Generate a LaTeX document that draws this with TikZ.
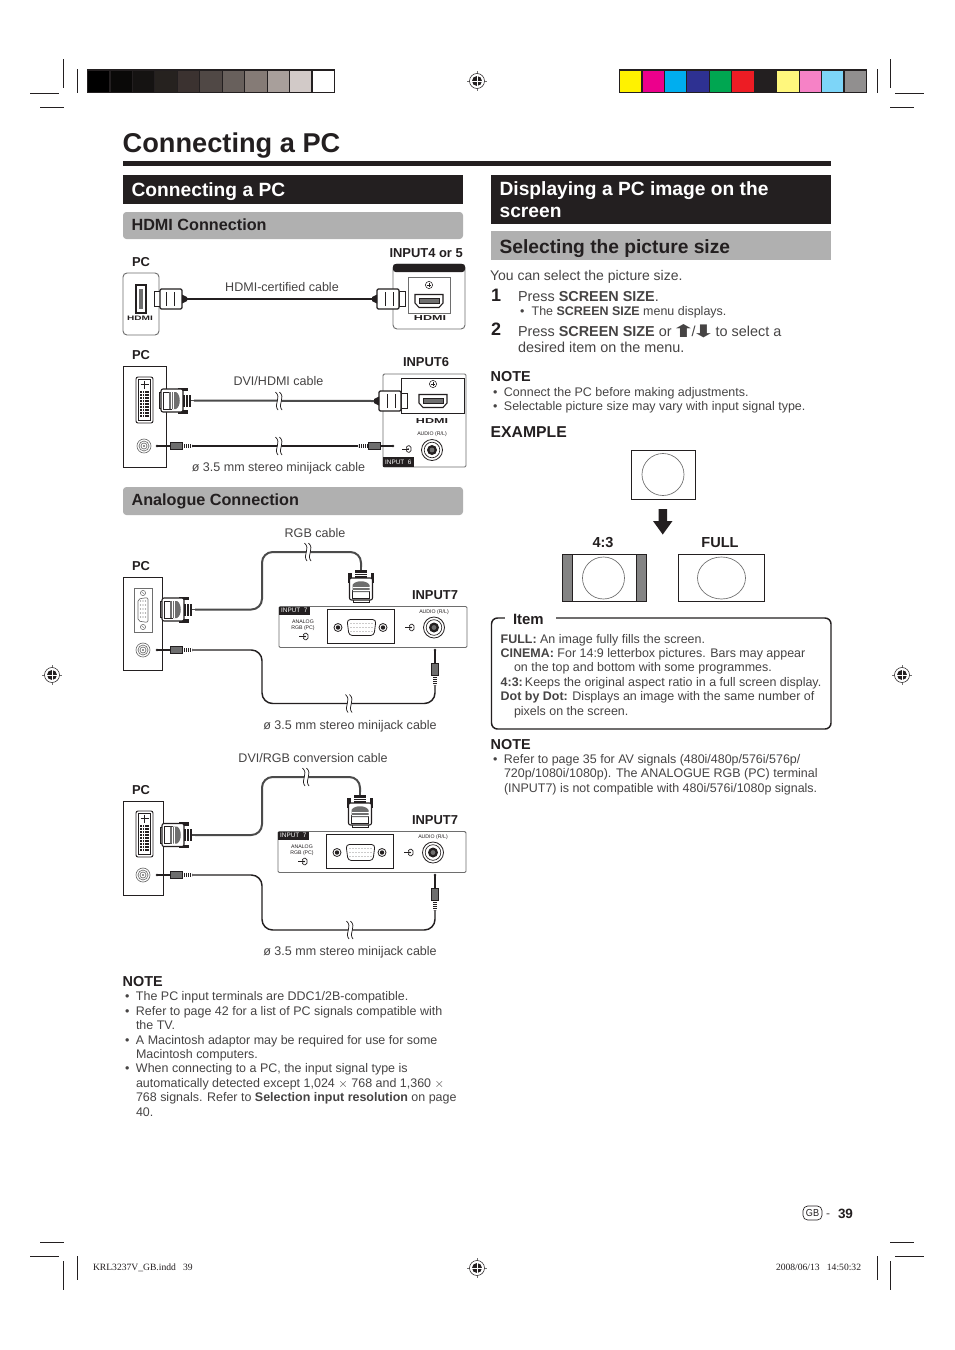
\documentclass[tikz,border=0pt]{standalone}
\usepackage{fontspec}
\usepackage{graphicx}
\usepackage{xcolor}
\usepackage{tikz}
\usetikzlibrary{arrows.meta,positioning}
\setmainfont{Liberation Sans}
\newfontfamily\symfont{DejaVu Sans}
\newfontfamily\slugfont{Liberation Serif}
\definecolor{ink}{RGB}{35,31,32}
\definecolor{soft}{RGB}{70,68,68}
\definecolor{barfill}{RGB}{176,176,176}
\definecolor{framegrey}{RGB}{110,110,110}
\definecolor{cableg}{RGB}{75,75,75}
\definecolor{kone}{RGB}{10,9,8}
\definecolor{ktwo}{RGB}{21,19,18}
\definecolor{kthree}{RGB}{38,34,31}
\definecolor{kfour}{RGB}{59,50,48}
\definecolor{kfive}{RGB}{80,72,69}
\definecolor{ksix}{RGB}{104,96,92}
\definecolor{kseven}{RGB}{133,123,118}
\definecolor{keight}{RGB}{168,159,155}
\definecolor{knine}{RGB}{210,202,200}
\definecolor{cyellow}{RGB}{255,242,0}
\definecolor{cmagenta}{RGB}{236,0,140}
\definecolor{ccyan}{RGB}{0,174,239}
\definecolor{cblue}{RGB}{46,49,146}
\definecolor{cgreen}{RGB}{0,166,81}
\definecolor{cred}{RGB}{237,28,36}
\definecolor{cblack}{RGB}{35,31,32}
\definecolor{lyellow}{RGB}{255,247,125}
\definecolor{lmagenta}{RGB}{246,130,198}
\definecolor{lcyan}{RGB}{125,213,248}
\definecolor{lgrey}{RGB}{145,143,143}
\newcommand{\bul}{\makebox[9.75pt][l]{\hspace{1.6pt}\textbullet}}
\newcommand{\hang}{\hspace*{9.75pt}}
\newcommand{\hdmilogo}{\scalebox{1.75}[1]{\fontsize{5.4}{5.4}\selectfont\bfseries HDMI}}
\newcommand{\bigarrow}[1]{\hspace{-3.5pt}\raisebox{-0.8pt}{\scalebox{2.1}[1.2]{\symfont #1}}\hspace{-3.5pt}}
\tikzset{
	bodytext/.style={anchor=base west, align=left, text=soft, font=\fontsize{9.35}{10.8}\selectfont},
	steptext/.style={anchor=base west, align=left, text=soft, font=\fontsize{10.8}{12}\selectfont},
	cablelabel/.style={anchor=base, text=soft, font=\fontsize{9.4}{11}\selectfont},
	boldlabel/.style={anchor=base west, text=ink, font=\fontsize{9.7}{11}\selectfont\bfseries},
	notehead/.style={anchor=base west, text=ink, font=\fontsize{10.8}{12}\selectfont\bfseries},
	bighead/.style={anchor=base west, align=left, text=white, font=\fontsize{14.4}{15.8}\selectfont\bfseries},
	greyhead/.style={anchor=base west, text=ink, font=\fontsize{14.4}{16}\selectfont\bfseries},
	subhead/.style={anchor=base west, text=ink, font=\fontsize{12.15}{14}\selectfont\bfseries},
	slug/.style={anchor=base west, text=ink, font=\slugfont\fontsize{7.2}{8}\selectfont},
	cropline/.style={line width=0.75pt, ink},
	cellline/.style={draw=cblack, line width=0.9pt},
	panelblack/.style={draw=ink, line width=0.6pt, fill=white},
	panelgrey/.style={draw=framegrey, line width=0.7pt, fill=white},
	thincable/.style={line width=1.1pt, ink},
	widecable/.style={line width=1.5pt, cableg},
	screenbox/.style={draw=ink, line width=0.6pt, fill=white},
	screenface/.style={draw=framegrey, line width=0.5pt},
	inputtag/.style={fill=ink, text=white, anchor=west, inner xsep=1.6pt, inner ysep=1.2pt, font=\fontsize{4.8}{5}\selectfont},
	tinytext/.style={text=ink, align=center, font=\fontsize{3.9}{4.3}\selectfont},
	regmark/.pic={
		\draw[line width=0.25pt, framegrey] (-10,0) -- (10,0) (0,-10) -- (0,10);
		\draw[line width=0.4pt, ink, fill=white] (0,0) circle[radius=7.5];
		\fill[ink] (0,0) circle[radius=5];
		\draw[line width=0.5pt, white] (-5,0) -- (5,0) (0,-5) -- (0,5);
	},
	plusmark/.pic={
		\draw[line width=0.4pt, ink] (0,0) circle[radius=3.6];
		\draw[line width=0.4pt, ink] (-2.2,0) -- (2.2,0) (0,-2.2) -- (0,2.2);
	},
	inmark/.pic={
		\draw[line width=0.5pt, ink] (1.5,-3.2) -- (0,-3.2) -- (-1.6,-1.8) -- (-1.6,1.8) -- (0,3.2) -- (1.5,3.2) -- (3,1.6) -- (3,-1.6) -- cycle;
		\draw[line width=0.5pt, ink] (-6,0) -- (1.2,0);
		\fill[ink] (1.2,0) -- (-0.5,-1.1) -- (-0.5,1.1) -- cycle;
	},
	hdmiplug/.pic={
		\draw[line width=0.7pt, ink, fill=white] (0,-7.5) rectangle (6,7.5);
		\draw[line width=0.9pt, ink, fill=white, rounded corners=1pt] (6,-10) rectangle (28,10);
		\draw[line width=0.6pt, ink] (12,-7) -- (12,7) (20,-7) -- (20,7);
		\fill[ink] (28,-4.5) -- (33,-2) -- (33,2) -- (28,4.5) -- cycle;
		\coordinate (-end) at (33,0);
	},
	dsubplug/.pic={
		\draw[line width=0.5pt, ink, fill=white] (0,-8) rectangle (3,8);
		\fill[ink] (19,-13) rectangle (29,-9.5);
		\fill[ink] (19,9.5) rectangle (29,13);
		\draw[line width=0.8pt, ink, fill=white, rounded corners=1.5pt] (2,-11.5) rectangle (24,11.5);
		\draw[line width=0.4pt, ink, fill=white] (4,-8.5) rectangle (12,8.5);
		\fill[framegrey] (10,-8.5) -- (17,-8.5) .. controls (22,-6) and (22,6) .. (17,8.5) -- (10,8.5) -- cycle;
		\draw[line width=0.4pt, white] (12,-8.5) -- (12,8.5) (14.5,-8.5) -- (14.5,8.5);
		\fill[ink] (24,-6) rectangle (32,6);
		\draw[line width=0.5pt, white] (26.5,-6) -- (26.5,6) (29,-6) -- (29,6);
		\coordinate (-end) at (35,0);
		\draw[line width=1.2pt, cableg] (32,0) -- (35,0);
	},
	jackplug/.pic={
		\fill[ink] (0,0) circle[radius=1.4];
		\draw[line width=1.1pt, ink] (0,0) -- (13,0);
		\draw[line width=0.5pt, ink, fill=framegrey] (13,-3.4) rectangle (25,3.4);
		\draw[line width=3pt, ink, dash pattern=on 0.8pt off 0.7pt] (25,0) -- (35,0);
		\coordinate (-end) at (35,0);
	},
	dviport/.pic={
		\draw[line width=0.7pt, ink, fill=white, rounded corners=1.5pt] (0,0) rectangle (17,46);
		\draw[line width=0.4pt, ink] (2.5,2.5) rectangle (14.5,43.5);
		\draw[line width=1pt, ink] (4.5,7.5) -- (12.5,7.5) (8.5,3.5) -- (8.5,11.5);
		\foreach \col in {5,7.4,9.8,12.2}
			\foreach \row in {15,18,...,39}
				\fill[ink] (\col-0.9,\row-0.9) rectangle (\col+0.9,\row+0.9);
	},
	vgaport/.pic={
		\draw[line width=0.5pt, framegrey, fill=white] (0,0) rectangle (18,44);
		\foreach \row in {5,39} {
			\draw[line width=0.4pt, framegrey] (9,\row) circle[radius=2.6];
			\draw[line width=0.3pt, framegrey] (7.4,\row-1.4) -- (10.6,\row+1.4);
		}
		\draw[line width=0.5pt, framegrey, rounded corners=1.5pt] (4,11) -- (14,9.5) -- (14,34.5) -- (4,33) -- cycle;
		\foreach \col in {6.5,9,11.5}
			\foreach \row in {13,17,...,31}
				\fill[framegrey] (\col,\row) circle[radius=0.55];
	},
	audioport/.pic={
		\draw[line width=0.5pt, framegrey, fill=white] (0,0) circle[radius=7];
		\draw[line width=0.5pt, framegrey] (0,0) circle[radius=5];
		\draw[line width=0.5pt, framegrey] (0,0) circle[radius=3];
		\fill[framegrey] (0,0) circle[radius=1.2];
	},
	audiojack/.pic={
		\draw[line width=0.6pt, ink, fill=white] (0,0) circle[radius=10.5];
		\draw[line width=0.5pt, ink] (0,0) circle[radius=7.8];
		\fill[ink] (0,0) circle[radius=5];
		\fill[framegrey] (0,0) circle[radius=2.4];
	},
	hdmisocket/.pic={
		\draw[line width=0.8pt, ink, fill=white] (-14,-6.5) -- (14,-6.5) -- (14,2) -- (10,6.5) -- (-10,6.5) -- (-14,2) -- cycle;
		\fill[framegrey] (-10,-3) rectangle (10,2);
		\draw[line width=0.5pt, ink] (-10,-3) rectangle (10,2);
	},
	cablebreak/.pic={
		\fill[white] (-2.5,-9) .. controls (4,-3) and (-5,3) .. (0,9) -- (4,9) .. controls (-1,3) and (8,-3) .. (1.5,-9) -- cycle;
		\draw[line width=0.55pt, ink] (-2.5,-9) .. controls (4,-3) and (-5,3) .. (0,9);
		\draw[line width=0.55pt, ink] (1.5,-9) .. controls (8,-3) and (-1,3) .. (4,9);
	},
	inputseven/.pic={
		\draw[panelgrey, rounded corners=1pt] (0,0) rectangle (188,41);
		\node[inputtag, minimum height=8pt*0.75] (-tag) at (0,4) {INPUT\ \ 7};
		\node[tinytext] (-analog) at (24,19) {ANALOG\\RGB (PC)};
		\pic at (26,30) {inmark};
		\draw[line width=0.7pt, ink, fill=white] (48,3) rectangle (115,37);
		\draw[line width=0.6pt, ink, rounded corners=2.5pt] (68,13) -- (97,13) -- (95,29) -- (70,29) -- cycle;
		\foreach \col in {72,75,...,93}
			\foreach \row in {17,21,25}
				\fill[ink] (\col,\row) circle[radius=0.45];
		\foreach \col in {59,104} {
			\draw[line width=0.6pt, ink] (\col,21) circle[radius=4];
			\fill[ink] (\col,21) circle[radius=2.2];
		}
		\pic at (132,21) {inmark};
		\node[tinytext] (-audio) at (155,6) {AUDIO (R/L)};
		\pic at (155,21) {audiojack};
	}
}
\begin{document}
\begin{tikzpicture}[x=0.75pt, y=-0.75pt, every node/.style={inner sep=0pt, outer sep=0pt}]
	\useasboundingbox (0,0) rectangle (954,1350);
	\fill[white] (0,0) rectangle (954,1350);

	\foreach \shade [count=\i from 0] in {black,kone,ktwo,kthree,kfour,kfive,ksix,kseven,keight,knine,white}
		\draw[cellline, fill=\shade] ({87.5+22.45*\i},70) rectangle ++(22.45,22.5);
	\foreach \shade [count=\i from 0] in {cyellow,cmagenta,ccyan,cblue,cgreen,cred,cblack,lyellow,lmagenta,lcyan,lgrey}
		\draw[cellline, fill=\shade] ({619.5+22.45*\i},70) rectangle ++(22.45,22.5);

	\draw[cropline] (63,59) -- (63,88) (77,69) -- (77,93) (30,93) -- (59,93) (40,107) -- (64,107);
	\draw[cropline] (890,59) -- (890,88) (877,69) -- (877,93) (895,93) -- (924,93) (890,107) -- (914,107);
	\draw[cropline] (63,1261) -- (63,1290) (77,1256) -- (77,1280) (30,1256) -- (59,1256) (40,1242) -- (64,1242);
	\draw[cropline] (890,1261) -- (890,1290) (877,1256) -- (877,1280) (895,1256) -- (924,1256) (890,1242) -- (914,1242);
	\pic at (477,81) {regmark};
	\pic at (52,675) {regmark};
	\pic at (902,675) {regmark};
	\pic at (477,1268) {regmark};

	\node[anchor=base west, text=ink, font=\fontsize{20.4}{24}\selectfont\bfseries] (title) at (122.7,152) {Connecting a PC};
	\fill[ink] (123,161) rectangle (831,165.5);

	\fill[ink] (123,175) rectangle (463,204);
	\node[bighead] (headleft) at (131.6,196) {Connecting a PC};
	\fill[ink] (491,175) rectangle (831,224);
	\node[bighead] (headright) at (499.6,217) {Displaying a PC image on the\\screen};
	\fill[barfill, rounded corners=2.5pt] (123,212) rectangle (463,239);
	\node[subhead] (hdmititle) at (131.6,230) {HDMI Connection};
	\fill[barfill] (491,231) rectangle (831,260);
	\node[greyhead] (sizetitle) at (499.6,253) {Selecting the picture size};
	\fill[barfill, rounded corners=2.5pt] (123,487) rectangle (463,515);
	\node[subhead] (analogtitle) at (131.6,505) {Analogue Connection};

	\node[boldlabel] (pca) at (132,266) {PC};
	\draw[draw=framegrey, line width=0.7pt, rounded corners=3pt] (123,273) rectangle (159,335);
	\draw[line width=0.8pt, ink, fill=white] (136,285) -- (146,285) -- (146,313) -- (136,313) -- cycle;
	\fill[framegrey] (139,289) rectangle (143,309);
	\node[text=ink] (hdmipca) at (140,318) {\scalebox{0.8}[0.9]{\hdmilogo}};
	\pic (plugaa) at (154,299) {hdmiplug};

	\node[boldlabel] (inputa) at (389.5,257) {INPUT4 or 5};
	\draw[draw=framegrey, line width=0.7pt, rounded corners=3pt] (393,264) rectangle (465,329);
	\fill[ink, rounded corners=2pt] (393,264) -- (465,264) -- (465,272) -- (393,272) -- cycle;
	\draw[line width=0.5pt, framegrey] (408,277) rectangle (450,313);
	\pic at (429,285) {plusmark};
	\pic at (429,301) {hdmisocket};
	\node[text=ink] (hdmiina) at (430,318.5) {\hdmilogo};
	\pic[xscale=-1] (plugab) at (405,299) {hdmiplug};
	\node[cablelabel] (cablea) at (282,291) {HDMI-certified cable};
	\draw[line width=2.2pt, ink] (plugaa-end) -- (plugab-end);

	\node[boldlabel] (pcb) at (132,359) {PC};
	\draw[panelblack] (123,366) rectangle (166,467);
	\pic at (136,377) {dviport};
	\pic at (144,446) {audioport};
	\pic (plugba) at (159,400.5) {dsubplug};

	\node[boldlabel] (inputb) at (403,366) {INPUT6};
	\draw[panelgrey, rounded corners=1pt] (383,374) rectangle (466,467);
	\draw[line width=0.6pt, ink] (401,413) -- (401,378) -- (464,378) -- (464,413) -- cycle;
	\pic at (433,384) {plusmark};
	\pic at (433,401) {hdmisocket};
	\node[text=ink] (hdmiinb) at (432,421) {\hdmilogo};
	\pic[xscale=-1] (plugbb) at (407,401) {hdmiplug};
	\node[tinytext] (audiob) at (432,434) {AUDIO (R/L)};
	\pic at (432,450) {audiojack};
	\pic at (408,449) {inmark};
	\node[inputtag, minimum height=6.8pt] (tagb) at (383,462) {INPUT\ \ 6};
	\pic (jackba) at (157,446) {jackplug};
	\pic[xscale=-1] (jackbb) at (393,446) {jackplug};
	\node[cablelabel] (cableb) at (278.5,385) {DVI/HDMI cable};
	\node[cablelabel] (cablec) at (278.5,471) {ø 3.5 mm stereo minijack cable};
	\draw[widecable] (plugba-end) -- (plugbb-end);
	\draw[thincable] (jackba-end) -- (jackbb-end);
	\pic at (278,401) {cablebreak};
	\pic at (278,446) {cablebreak};

	\node[cablelabel] (cabled) at (315,537) {RGB cable};
	\node[boldlabel] (pcc) at (132,570) {PC};
	\draw[panelblack] (123,577) rectangle (162,670);
	\pic at (134,588) {vgaport};
	\pic at (143,650) {audioport};
	\pic (plugca) at (160,609.5) {dsubplug};
	\pic[rotate=90] (plugcb) at (361,602) {dsubplug};
	\pic (panelc) at (279,606.5) {inputseven};
	\node[boldlabel] (inputc) at (412,599) {INPUT7};
	\pic (jackca) at (157,650) {jackplug};
	\pic[rotate=-90] (jackcb) at (435,650) {jackplug};
	\node[cablelabel] (cablee) at (350,729) {ø 3.5 mm stereo minijack cable};
	\coordinate (bendca) at (262,552);
	\coordinate (bendcb) at (262,703.5);
	\draw[widecable, rounded corners=8pt] (plugca-end) -| (bendca) -| (plugcb-end);
	\draw[thincable, rounded corners=8pt] (jackca-end) -| (bendcb) -| (jackcb-end);
	\pic at (307,552) {cablebreak};
	\pic at (348,703.5) {cablebreak};

	\node[cablelabel] (cablef) at (313,762) {DVI/RGB conversion cable};
	\node[boldlabel] (pcd) at (132,794) {PC};
	\draw[panelblack] (123,801) rectangle (163,895);
	\pic at (136,811) {dviport};
	\pic at (143,875) {audioport};
	\pic (plugda) at (160,835) {dsubplug};
	\pic[rotate=90] (plugdb) at (360,827) {dsubplug};
	\pic (paneld) at (278,831.5) {inputseven};
	\node[boldlabel] (inputd) at (412,824) {INPUT7};
	\pic (jackda) at (157,875) {jackplug};
	\pic[rotate=-90] (jackdb) at (435,875) {jackplug};
	\node[cablelabel] (cableh) at (350,955) {ø 3.5 mm stereo minijack cable};
	\coordinate (bendda) at (262,777);
	\coordinate (benddb) at (262,930);
	\draw[widecable, rounded corners=8pt] (plugda-end) -| (bendda) -| (plugdb-end);
	\draw[thincable, rounded corners=8pt] (jackda-end) -| (benddb) -| (jackdb-end);
	\pic at (305,777) {cablebreak};
	\pic at (349,930) {cablebreak};

	\node[notehead] (noteleft) at (122.7,986) {NOTE};
	\node[bodytext] (listleft) at (123,1116) {\bul The PC input terminals are DDC1/2B-compatible.\\
		\bul Refer to page 42 for a list of PC signals compatible with\\
		\hang the TV.\\
		\bul A Macintosh adaptor may be required for use for some\\
		\hang Macintosh computers.\\
		\bul When connecting to a PC, the input signal type is\\
		\hang automatically detected except 1,024 $\times$ 768 and 1,360 $\times$\\
		\hang 768 signals. Refer to \textbf{Selection input resolution} on page\\
		\hang 40.};

	\node[steptext, font=\fontsize{10.5}{12}\selectfont] (intro) at (490,280) {You can select the picture size.};
	\node[anchor=base west, text=ink, font=\fontsize{13.5}{14}\selectfont\bfseries] (numa) at (491,301) {1};
	\node[steptext] (stepa) at (518,301) {Press \textbf{SCREEN SIZE}.};
	\node[bodytext] (stepasub) at (518,315) {\hspace{1.6pt}\textbullet\hspace{5.4pt}The \textbf{SCREEN SIZE} menu displays.};
	\node[anchor=base west, text=ink, font=\fontsize{13.5}{14}\selectfont\bfseries] (numb) at (491,335) {2};
	\node[steptext] (stepb) at (518,352) {Press \textbf{SCREEN SIZE} or \bigarrow{⬆}/\bigarrow{⬇} to select a\\desired item on the menu.};
	\node[notehead] (notea) at (490.7,381) {NOTE};
	\node[bodytext] (lista) at (491,410.5) {\bul Connect the PC before making adjustments.\\
		\bul Selectable picture size may vary with input signal type.};
	\node[anchor=base west, text=ink, font=\fontsize{11.8}{13}\selectfont\bfseries] (example) at (490.7,437) {EXAMPLE};

	\draw[screenbox] (631.5,450.5) rectangle (695,499);
	\draw[screenface] (663,474.5) circle[radius=21];
	\fill[ink] (658.5,509) -- (667,509) -- (667,521) -- (672.5,521) -- (662.75,534.5) -- (653,521) -- (658.5,521) -- cycle;
	\node[boldlabel, anchor=base, font=\fontsize{10.9}{12}\selectfont\bfseries] (lblfour) at (603,547) {4:3};
	\node[boldlabel, anchor=base, font=\fontsize{10.9}{12}\selectfont\bfseries] (lblfull) at (720,547) {FULL};
	\draw[screenbox] (562.5,554.5) rectangle (646,601.5);
	\draw[draw=ink, line width=0.4pt, fill=framegrey!85!white] (562.5,554.5) rectangle (572.5,601.5);
	\draw[draw=ink, line width=0.4pt, fill=framegrey!85!white] (636,554.5) rectangle (646,601.5);
	\draw[screenface] (603.5,578) circle[radius=21];
	\draw[screenbox] (678.5,554.5) rectangle (764.5,601.5);
	\draw[screenface] (721.5,578) ellipse[x radius=24, y radius=21];

	\draw[line width=1.1pt, ink, rounded corners=4.5pt] (491.5,618) rectangle (831,729);
	\node[fill=white, inner xsep=0pt, inner ysep=2pt, anchor=base west, text=ink, font=\fontsize{11.2}{12}\selectfont\bfseries] (item) at (505,624) {\strut\hspace*{6pt}Item\hspace*{9pt}};
	\node[bodytext] (itemlist) at (500.7,715) {\textbf{FULL:} An image fully fills the screen.\\
		\textbf{CINEMA:} For 14:9 letterbox pictures. Bars may appear\\
		\hspace*{10pt}on the top and bottom with some programmes.\\
		\textbf{4:3:}\hspace{-1.9pt} Keeps the original aspect ratio in a full screen display.\\
		\textbf{Dot by Dot:} Displays an image with the same number of\\
		\hspace*{10pt}pixels on the screen.};
	\node[notehead] (noteb) at (490.7,749) {NOTE};
	\node[bodytext] (listb) at (491,792) {\bul Refer to page 35 for AV signals (480i/480p/576i/576p/\\
		\hang 720p/1080i/1080p). The ANALOGUE RGB (PC) terminal\\
		\hang (INPUT7) is not compatible with 480i/576i/1080p signals.};

	\node[draw=ink, line width=0.5pt, rounded corners=3.5pt, minimum width=19*0.75pt, minimum height=14*0.75pt, text=ink, font=\fontsize{7.6}{8}\selectfont] (gbmark) at (812.5,1213) {\scalebox{0.9}[1]{GB}};
	\node[anchor=base west, text=soft, font=\fontsize{9}{10}\selectfont] (dash) at (826,1217) {-};
	\node[anchor=base west, text=ink, font=\fontsize{10.1}{11}\selectfont\bfseries] (pageno) at (838,1218) {39};
	\node[slug] (sluga) at (93,1270) {KRL3237V\_GB.indd\ \ \ 39};
	\node[slug] (slugb) at (776,1270) {2008/06/13\ \ \ 14:50:32};
\end{tikzpicture}
\end{document}
